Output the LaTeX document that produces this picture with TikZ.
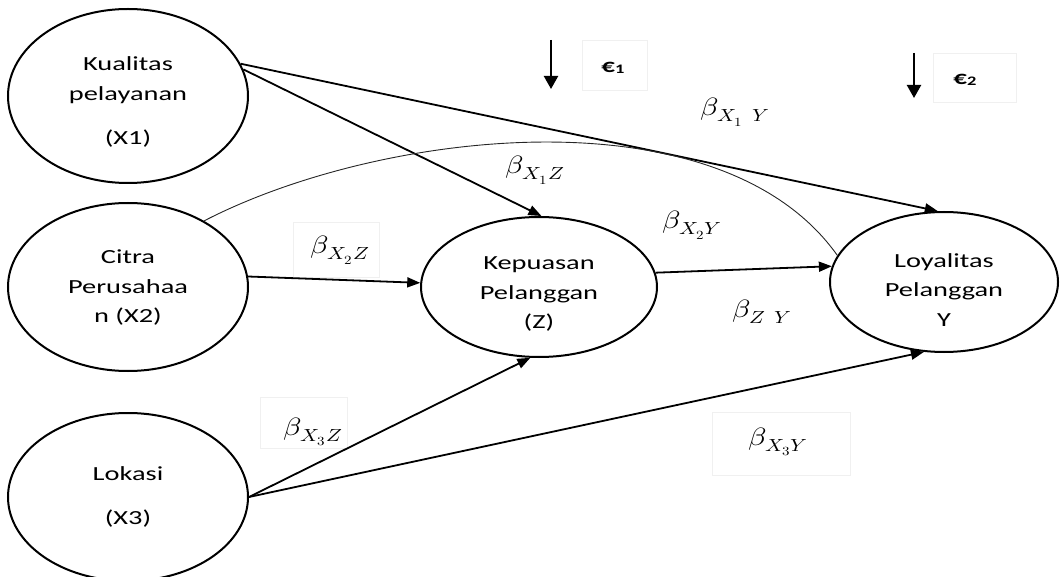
\documentclass[tikz,border=0pt]{standalone}
\usepackage{fontspec}
\setmainfont{Carlito}[FakeStretch=1.42]
\usepackage{unicode-math}
\setmathfont{Latin Modern Math}
\usetikzlibrary{shapes.geometric,arrows.meta,calc}

\tikzset{
  var/.style={ellipse, draw, line width=2pt, inner sep=0pt},
  vtext/.style={align=center, inner sep=0pt, font=\fontsize{20}{29.5}\selectfont},
  path/.style={line width=1.8pt, -{Triangle[length=13pt,width=10pt]}},
  noise/.style={line width=2.2pt, -{Triangle[length=13pt,width=14pt]}},
  coef/.style={font=\fontsize{25}{28}\selectfont, inner sep=1pt},
  err/.style={font=\fontsize{19}{22}\selectfont\bfseries, inner sep=1pt},
  ghost/.style={draw=black!6, line width=0.6pt}
}
\newcommand{\coefsym}[1]{\scalebox{1.2}[1]{$#1$}}

\begin{document}
\begin{tikzpicture}[x=1pt,y=-1pt]
\useasboundingbox (0,0) rectangle (1060,577);

% faint frames of the coefficient text boxes
\draw[ghost] (933,53) rectangle (1016,102);
\draw[ghost] (582,40) rectangle (647,90);
\draw[ghost] (293,222) rectangle (379,277);
\draw[ghost] (260,397) rectangle (347,448);
\draw[ghost] (712,412) rectangle (850,475);

% latent variables
\node[var, minimum width=240pt, minimum height=174pt] (X1) at (128,96) {};
\node[var, minimum width=240pt, minimum height=168pt] (X2) at (128,287) {};
\node[var, minimum width=240pt, minimum height=168pt] (X3) at (128,497) {};
\node[var, minimum width=236pt, minimum height=140pt] (Z) at (539,287) {};
\node[var, minimum width=228pt, minimum height=140pt] (Y) at (944,282) {};

\node[vtext] (X1t) at ($(X1.center)+(0,6)$) {Kualitas\\pelayanan\\[15pt](X1)};
\node[vtext] (X2t) at ($(X2.center)+(0,1)$) {Citra\\Perusahaa\\n (X2)};
\node[vtext] (X3t) at ($(X3.center)+(0,0)$) {Lokasi\\[15pt](X3)};
\node[vtext] (Zt)  at ($(Z.center)+(0,7)$)  {Kepuasan\\Pelanggan\\(Z)};
\node[vtext] (Yt)  at ($(Y.center)+(0,8)$)  {Loyalitas\\Pelanggan\\Y};

% structural paths
\draw[path] (X1.16) -- (Y.95);
\draw[path] (X1.13) -- (Z.88);
\draw[path] (X2.5) -- (Z.178);
\draw[path] (Z.7) -- (Y.172);
\draw[path] (X3.east) -- (Z.263);
\draw[path] (X3.east) -- (Y.254);
\draw[line width=0.9pt, black!85] (X2.41) .. controls (380,130) and (720,90) .. (Y.166);

% error terms
\coordinate (e1a) at (551,40);
\coordinate (e1b) at (551,89);
\coordinate (e2a) at (914,53);
\coordinate (e2b) at (914,98);
\draw[noise] (e1a) -- (e1b);
\draw[noise] (e2a) -- (e2b);
\node[err] (E1) at (613,68) {€\raisebox{-0.5pt}{\fontsize{13}{14}\selectfont 1}};
\node[err] (E2) at (965,80) {€\raisebox{-0.5pt}{\fontsize{13}{14}\selectfont 2}};

% path coefficients
\node[coef] (bX1Y) at (735,112) {\coefsym{\beta_{X_1\ Y}}};
\node[coef] (bX1Z) at (535,170) {\coefsym{\beta_{X_1 Z}}};
\node[coef] (bX2Y) at (692,225) {\coefsym{\beta_{X_2 Y}}};
\node[coef] (bX2Z) at (340,250) {\coefsym{\beta_{X_2 Z}}};
\node[coef] (bZY)  at (762,312) {\coefsym{\beta_{Z\ Y}}};
\node[coef] (bX3Z) at (313,432) {\coefsym{\beta_{X_3 Z}}};
\node[coef] (bX3Y) at (778,442) {\coefsym{\beta_{X_3 Y}}};
\end{tikzpicture}
\end{document}
